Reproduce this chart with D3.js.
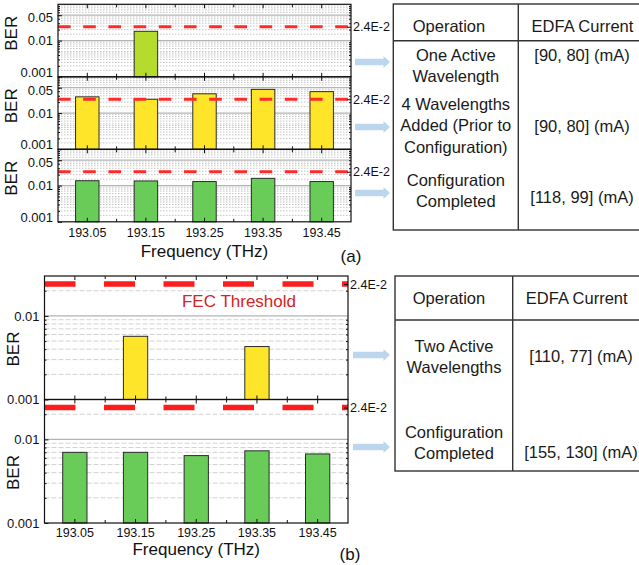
<!DOCTYPE html>
<html>
<head>
<meta charset="utf-8">
<script src="https://cdn.jsdelivr.net/npm/d3@7"></script>
<style>
  body { margin: 0; background: #fff; }
  svg { display: block; font-family: "Liberation Sans", Arial, Helvetica, sans-serif; }
</style>
</head>
<body>
<svg id="chart" width="639" height="565"></svg>
<script>
// ---- data ----
const frequencies = ["193.05", "193.15", "193.25", "193.35", "193.45"];
// (a) BER per channel at each stage (null = channel not active)
const berOneActive     = [null, 0.018, null, null, null];
const berFourAdded     = [0.028, 0.024, 0.034, 0.045, 0.039];
const berConfiguredA   = [0.0136, 0.0134, 0.0129, 0.0158, 0.0129];
// (b)
const berTwoActive     = [null, 0.0057, null, 0.0043, null];
const berConfiguredB   = [0.0070, 0.0070, 0.0064, 0.0073, 0.0067];

const fecThreshold = 0.024;
const fecLabel = "2.4E-2";
const yTickLabelsA = [0.001, 0.01, 0.05];
const yTickLabelsB = [0.001, 0.01];
const yDomainA = [0.001, 0.1];
const yDomainB = [0.001, 0.03];

const tableA = {
  header: ["Operation", "EDFA Current"],
  operations: [["One Active", "Wavelength"], ["4 Wavelengths", "Added (Prior to", "Configuration)"], ["Configuration", "Completed"]],
  currents: ["[90, 80] (mA)", "[90, 80] (mA)", "[118, 99] (mA)"]
};
const tableB = {
  header: ["Operation", "EDFA Current"],
  operations: [["Two Active", "Wavelengths"], ["Configuration", "Completed"]],
  currents: ["[110, 77] (mA)", "[155, 130] (mA)"]
};

// ---- drawing ----
const svg = d3.select("#chart");
const COL = { yellowGreen: "#b5dc2c", yellow: "#ffe52a", green: "#69cc58", arrow: "#bcd6ee" };

function minorValues(domain, steps) {
  const out = [];
  for (let e = -4; e <= 0; e++) {
    for (const k of steps) {
      const v = +(k * Math.pow(10, e)).toPrecision(6);
      if (v > domain[0] * 1.0001 && v < domain[1] * 0.9999) out.push(v);
    }
  }
  return out;
}

function subplot(o) {
  const g = svg.append("g");
  const x = d3.scaleBand().domain(frequencies).range([o.x0, o.x1]).paddingInner(0.6).paddingOuter(0.3);
  const xc = d => x(d) + x.bandwidth() / 2;
  const y = d3.scaleLog().domain(o.domain).range([o.y1, o.y0]);

  // grid lines
  const minor = o.panel === "a"
    ? minorValues(o.domain, [1.5, 2, 2.5, 3, 3.5, 4, 4.5, 5, 6, 7, 8, 9]).filter(v => !o.major.includes(v))
    : minorValues(o.domain, [2, 3, 4, 5, 6, 7, 8, 9]).filter(v => !o.major.includes(v));
  g.append("g").selectAll("line").data(minor).join("line")
    .attr("x1", o.x0).attr("x2", o.x1)
    .attr("y1", d => y(d)).attr("y2", d => y(d))
    .attr("stroke", o.panel === "a" ? "#c4c4c4" : "#d2d2d2")
    .attr("stroke-width", 1)
    .attr("stroke-dasharray", o.panel === "a" ? "1.5,1.5" : "5,2");
  g.append("g").selectAll("line").data(o.major.filter(v => v > o.domain[0])).join("line")
    .attr("x1", o.x0).attr("x2", o.x1)
    .attr("y1", d => y(d)).attr("y2", d => y(d))
    .attr("stroke", "#b4b4b4").attr("stroke-width", 1.3);

  // bars
  const rows = frequencies.map((f, i) => ({ f, v: o.values[i] })).filter(d => d.v != null);
  g.append("g").selectAll("rect").data(rows).join("rect")
    .attr("x", d => x(d.f)).attr("width", x.bandwidth())
    .attr("y", d => y(d.v)).attr("height", d => o.y1 - y(d.v))
    .attr("fill", o.color).attr("stroke", "#2b2b2b").attr("stroke-width", 1);

  // FEC threshold
  g.append("line")
    .attr("x1", o.x0).attr("x2", o.x1)
    .attr("y1", y(fecThreshold)).attr("y2", y(fecThreshold))
    .attr("stroke", o.panel === "a" ? "#ff2a2a" : "#ff1c1c")
    .attr("stroke-width", o.panel === "a" ? 3 : 5.5)
    .attr("stroke-dasharray", o.panel === "a" ? "12.6,12.6" : "31,28.5");

  // frame
  g.append("rect").attr("x", o.x0).attr("y", o.y0)
    .attr("width", o.x1 - o.x0).attr("height", o.y1 - o.y0)
    .attr("fill", "none").attr("stroke", "#111").attr("stroke-width", 1.2);

  const style = (sel, size) => {
    sel.select(".domain").remove();
    sel.attr("font-family", null).attr("font-size", size || 12.5);
    sel.selectAll("line").attr("stroke", "#111");
    sel.selectAll("text").attr("fill", "#111");
  };

  // left axis; in stacked (a) the end labels are nudged apart so they do not collide
  const left = g.append("g").attr("transform", `translate(${o.x0},0)`)
    .call(d3.axisLeft(y).tickValues(o.labels).tickFormat(d => String(d)).tickSize(-4).tickPadding(5))
    .call(style, 13);
  if (o.panel === "a") {
    left.selectAll(".tick text").attr("dy", d => d === 0.001 ? "-0.05em" : d === 0.05 ? "0.5em" : "0.32em");
  }
  g.append("g").attr("transform", `translate(${o.x0},0)`)
    .call(d3.axisLeft(y).tickValues(minorValues(o.domain, [2, 3, 4, 5, 6, 7, 8, 9])).tickFormat("").tickSize(-2)).call(style);
  // right axis with threshold label
  g.append("g").attr("transform", `translate(${o.x1},0)`)
    .call(d3.axisRight(y).tickValues([fecThreshold]).tickFormat(() => fecLabel).tickSize(-4).tickPadding(2)).call(style);
  g.append("g").attr("transform", `translate(${o.x1},0)`)
    .call(d3.axisRight(y).tickValues(minorValues(o.domain, [2, 3, 4, 5, 6, 7, 8, 9])).tickFormat("").tickSize(-2)).call(style);

  // top / bottom ticks: centres (major) and band edges (minor)
  const edges = d3.range(1, frequencies.length).map(i => x(frequencies[i]) - x.step() * 0.3);
  [o.y0, o.y1].forEach((yy, k) => {
    const dir = k === 0 ? 1 : -1;
    g.append("g").selectAll("line").data(frequencies.map(xc)).join("line")
      .attr("x1", d => d).attr("x2", d => d).attr("y1", yy).attr("y2", yy + dir * 4)
      .attr("stroke", "#111");
    g.append("g").selectAll("line").data(edges).join("line")
      .attr("x1", d => d).attr("x2", d => d).attr("y1", yy).attr("y2", yy + dir * 3)
      .attr("stroke", "#111");
  });

  if (o.showX) {
    g.append("g").attr("transform", `translate(0,${o.y1})`)
      .call(d3.axisBottom(x).tickSize(0).tickPadding(o.panel === "a" ? 6.5 : 5)).call(style);
  }

  // y title
  g.append("text")
    .attr("transform", `translate(${o.titleX},${o.y0 + o.titleDy}) rotate(-90)`)
    .attr("text-anchor", "middle").attr("dominant-baseline", "central")
    .attr("font-size", 17).attr("fill", "#111").text("BER");

  return { x, y, g };
}

// panel (a): three stacked plots
const aX0 = 58, aX1 = 351, aTop = 4.3, aH = 72.5;
[[berOneActive, COL.yellowGreen], [berFourAdded, COL.yellow], [berConfiguredA, COL.green]].forEach(([vals, color], i) => {
  subplot({
    panel: "a", x0: aX0, x1: aX1, y0: aTop + i * aH, y1: aTop + (i + 1) * aH,
    domain: yDomainA, values: vals, color, labels: yTickLabelsA, major: [0.01, 0.05],
    showX: i === 2, titleX: 11.7, titleDy: 29
  });
});

// panel (b): two stacked plots
const bX0 = 44.5, bX1 = 348, bTop = 276, bH = 123.5;
let bFirst;
[[berTwoActive, COL.yellow], [berConfiguredB, COL.green]].forEach(([vals, color], i) => {
  const s = subplot({
    panel: "b", x0: bX0, x1: bX1, y0: bTop + i * bH, y1: bTop + (i + 1) * bH,
    domain: yDomainB, values: vals, color, labels: yTickLabelsB, major: [0.01],
    showX: i === 1, titleX: 13.3, titleDy: 73
  });
  if (i === 0) bFirst = s;
});
svg.append("text")
  .attr("x", 239).attr("y", bFirst.y(fecThreshold) + 17.5)
  .attr("text-anchor", "middle").attr("dominant-baseline", "central")
  .attr("font-size", 17).attr("fill", "#d42424").text("FEC Threshold");

// axis titles and panel tags
const xTitle = (cx, cy) => svg.append("text").attr("x", cx).attr("y", cy)
  .attr("text-anchor", "middle").attr("dominant-baseline", "central")
  .attr("font-size", 17).attr("fill", "#111").text("Frequency (THz)");
xTitle((aX0 + aX1) / 2, 251.7);
xTitle((bX0 + bX1) / 2, 549);
svg.append("text").attr("x", 351).attr("y", 256.7).attr("text-anchor", "middle")
  .attr("dominant-baseline", "central").attr("font-size", 17).attr("fill", "#111").text("(a)");
svg.append("text").attr("x", 350).attr("y", 554).attr("text-anchor", "middle")
  .attr("dominant-baseline", "central").attr("font-size", 17).attr("fill", "#111").text("(b)");

// arrows pointing at the table rows
function arrow(x0, x1, cy) {
  const shaft = 3.3, head = 6, headLen = 6.5;
  svg.append("path")
    .attr("d", `M${x0},${cy - shaft}L${x1 - headLen},${cy - shaft}L${x1 - headLen},${cy - head}L${x1},${cy}` +
      `L${x1 - headLen},${cy + head}L${x1 - headLen},${cy + shaft}L${x0},${cy + shaft}Z`)
    .attr("fill", COL.arrow);
}
[62, 127, 193].forEach(cy => arrow(355, 390, cy));
[355, 447].forEach(cy => arrow(353, 390, cy));

// tables
function table(t, box) {
  const g = svg.append("g").attr("font-size", 16.5).attr("fill", "#1a1a1a");
  g.append("rect").attr("x", box.x0).attr("y", box.y0).attr("width", box.x1 - box.x0).attr("height", box.y1 - box.y0)
    .attr("fill", "none").attr("stroke", "#333").attr("stroke-width", 1.4);
  g.append("line").attr("x1", box.xc).attr("x2", box.xc).attr("y1", box.y0).attr("y2", box.y1)
    .attr("stroke", "#333").attr("stroke-width", 1.4);
  g.append("line").attr("x1", box.x0).attr("x2", box.x1).attr("y1", box.yh).attr("y2", box.yh)
    .attr("stroke", "#333").attr("stroke-width", 1.4);
  const txt = (s, x, y) => g.append("text").attr("x", x).attr("y", y).attr("text-anchor", "middle")
    .attr("dominant-baseline", "central").text(s);
  txt(t.header[0], box.headX[0], box.headY);
  txt(t.header[1], box.headX[1], box.headY);
  t.operations.forEach((lines, i) => lines.forEach((s, j) => txt(s, box.opX, box.opY[i] + j * box.lh)));
  t.currents.forEach((s, i) => txt(s, box.curX, box.curY[i]));
}
table(tableA, {
  x0: 393.3, x1: 641, y0: 4, y1: 230, xc: 518.3, yh: 40.7,
  headX: [449, 582.5], headY: 26, opX: 455.8, opY: [55, 104, 180], lh: 21.3,
  curX: 582, curY: [55, 126, 196.7]
});
table(tableB, {
  x0: 395, x1: 641, y0: 276, y1: 471, xc: 512.7, yh: 320,
  headX: [449, 576.7], headY: 298.3, opX: 454, opY: [346, 431.7], lh: 20.8,
  curX: 581, curY: [356, 451.7]
});
</script>
</body>
</html>
